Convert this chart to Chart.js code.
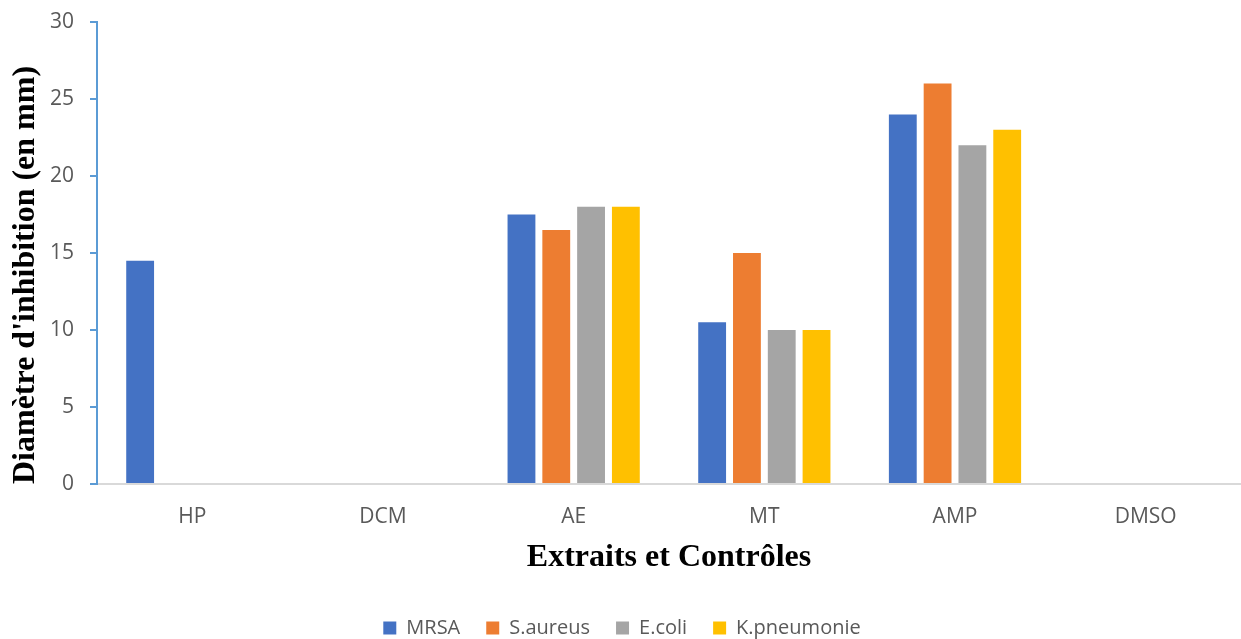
<!DOCTYPE html>
<html lang="fr">
<head>
    <meta charset="UTF-8">
    <title>Diamètre d'inhibition</title>
    <style>
        body { margin: 0; background: #ffffff; }
    </style>
</head>
<body>
<canvas id="chart1" width="1241" height="639"></canvas>

<script src="https://cdn.jsdelivr.net/npm/chart.js"></script>
<script>
    // data
    const categories = ['HP', 'DCM', 'AE', 'MT', 'AMP', 'DMSO'];
    const mrsa = [14.5, 0, 17.5, 10.5, 24, 0];
    const saureus = [0, 0, 16.5, 15, 26, 0];
    const ecoli = [0, 0, 18, 10, 22, 0];
    const kpneumonie = [0, 0, 18, 10, 23, 0];

    const tickFont = {family: '"Open Sans", sans-serif', size: 21};
    const legendFont = {family: '"Open Sans", sans-serif', size: 20};
    const titleFont = {family: '"Liberation Serif", "Times New Roman", serif', size: 32, weight: 'bold'};

    function bars(label, values, color) {
        return {
            label: label,
            data: values,
            backgroundColor: color,
            categoryPercentage: 0.73,
            barPercentage: 0.8
        };
    }

    // legend keeps 26px between items, but should not take that much height
    const legendHeight = {
        id: 'legendHeight',
        beforeLayout(chart) {
            const lg = chart.legend;
            if (lg && !lg._fixed) {
                const fit = lg.fit;
                lg.fit = function () {
                    fit.call(this);
                    this.height = 47;
                };
                lg._fixed = true;
            }
        }
    };

    const ctx = document.getElementById('chart1').getContext('2d');
    const chart = new Chart(ctx, {
        type: 'bar',
        data: {
            labels: categories,
            datasets: [
                bars('MRSA', mrsa, '#4472c4'),
                bars('S.aureus', saureus, '#ed7d31'),
                bars('E.coli', ecoli, '#a5a5a5'),
                bars('K.pneumonie', kpneumonie, '#ffc000')
            ]
        },
        plugins: [legendHeight],
        options: {
            responsive: false,
            animation: false,
            layout: {
                padding: {top: 22, left: 3, right: 0, bottom: 0}
            },
            plugins: {
                tooltip: {enabled: false},
                legend: {
                    position: 'bottom',
                    labels: {
                        boxWidth: 13,
                        boxHeight: 13,
                        padding: 26,
                        color: '#595959',
                        font: legendFont
                    }
                }
            },
            scales: {
                x: {
                    grid: {display: false},
                    border: {display: true, color: '#d9d9d9', width: 2},
                    ticks: {color: '#595959', font: tickFont, padding: 12},
                    title: {
                        display: true,
                        text: 'Extraits et Contrôles',
                        color: '#000000',
                        font: titleFont,
                        padding: {top: 4, bottom: 15}
                    },
                    afterFit: function (scale) {
                        scale.height = 108;
                    }
                },
                y: {
                    min: 0,
                    max: 30,
                    grid: {
                        drawOnChartArea: false,
                        drawTicks: true,
                        tickLength: 7,
                        tickColor: '#5b9bd5',
                        lineWidth: 2
                    },
                    border: {display: true, color: '#5b9bd5', width: 2},
                    ticks: {stepSize: 5, color: '#595959', font: tickFont, padding: 16},
                    title: {
                        display: true,
                        text: "Diamètre d'inhibition (en mm)",
                        align: 'start',
                        color: '#000000',
                        font: titleFont,
                        padding: {top: 4, bottom: 4}
                    },
                    afterFit: function (scale) {
                        scale.width = 94;
                        scale.paddingTop = 0;
                        scale.paddingBottom = 0;
                    }
                }
            }
        }
    });
</script>
</body>
</html>
